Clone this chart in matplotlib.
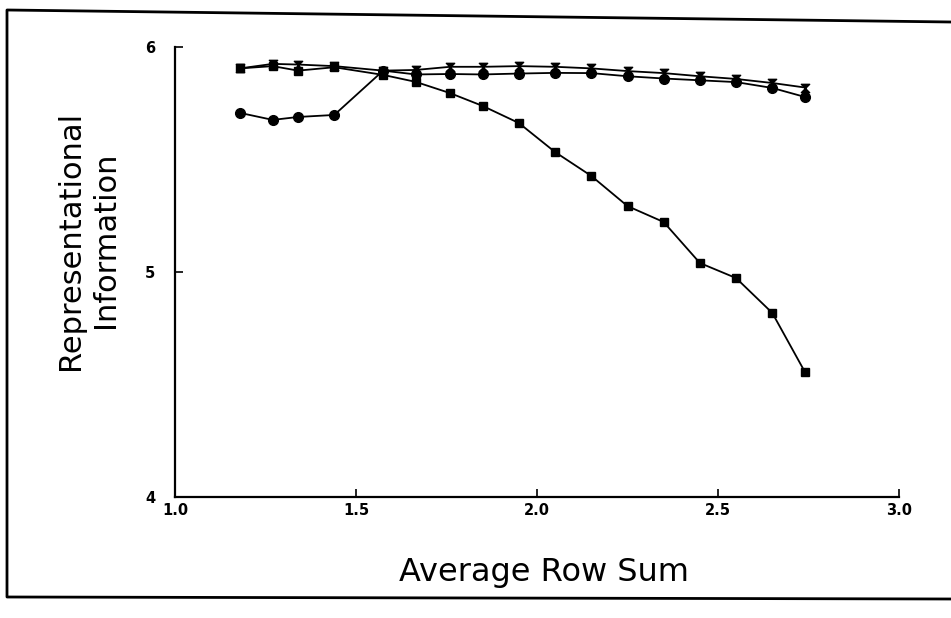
import matplotlib.pyplot as plt
from matplotlib.path import Path
from matplotlib.lines import Line2D

# Valores
fila_media = [1.18, 1.27, 1.34, 1.44, 1.575, 1.665, 1.76, 1.85, 1.95, 2.05,
              2.15, 2.25, 2.35, 2.45, 2.55, 2.65, 2.74]

info_circulos = [5.707, 5.676, 5.689, 5.698, 5.895, 5.878, 5.88, 5.878, 5.882,
                 5.885, 5.884, 5.87, 5.86, 5.852, 5.844, 5.818, 5.778]
info_cuadrados = [5.905, 5.915, 5.895, 5.91, 5.876, 5.845, 5.795, 5.738, 5.662,
                  5.533, 5.427, 5.293, 5.222, 5.04, 4.973, 4.818, 4.556]
info_relojes = [5.905, 5.925, 5.922, 5.915, 5.895, 5.898, 5.912, 5.912, 5.915,
                5.912, 5.905, 5.893, 5.884, 5.87, 5.858, 5.84, 5.82]

xticks = [1.0, 1.5, 2.0, 2.5, 3.0]
yticks = [4, 5, 6]

# marcador tipo reloj de arena
reloj = Path([(-1, 1), (1, 1), (-1, -1), (1, -1), (-1, 1)],
             [Path.MOVETO, Path.LINETO, Path.LINETO, Path.LINETO, Path.CLOSEPOLY])

fig = plt.figure(figsize=(9.51, 6.18), dpi=100)
ax = fig.add_axes([175 / 951, 1 - 497 / 618, (899 - 175) / 951, (497 - 47) / 618])

ax.plot(fila_media, info_relojes, color='black', lw=1.3, marker=reloj, ms=6)
ax.plot(fila_media, info_circulos, color='black', lw=1.3, marker='o', ms=7)
ax.plot(fila_media, info_cuadrados, color='black', lw=1.3, marker='s', ms=6)

ax.set_xlim(1.0, 3.0)
ax.set_ylim(4, 6)
ax.set_xticks(xticks)
ax.set_xticklabels(['%.1f' % v for v in xticks])
ax.set_yticks(yticks)
ax.spines['top'].set_visible(False)
ax.spines['right'].set_visible(False)
ax.spines['left'].set_linewidth(1.6)
ax.spines['bottom'].set_linewidth(1.6)
ax.tick_params(direction='in', length=6, width=1.2, labelsize=10.5)
ax.tick_params(axis='x', pad=4)
ax.tick_params(axis='y', pad=14)
for t in ax.get_xticklabels() + ax.get_yticklabels():
    t.set_fontweight('bold')

fig.text(544 / 951, 1 - 573 / 618, 'Average Row Sum', ha='center', va='center', fontsize=23)
fig.text(88 / 951, 1 - 240 / 618, 'Representational\nInformation', ha='center', va='center',
         rotation=90, fontsize=22, linespacing=1.3)

# marco alrededor de la figura (sin lado derecho)
marco = Line2D([951 / 951, 7 / 951, 7 / 951, 951 / 951],
               [1 - 22 / 618, 1 - 10 / 618, 1 - 597 / 618, 1 - 599 / 618],
               transform=fig.transFigure, color='black', lw=2)
fig.add_artist(marco)

fig.savefig('out.png', dpi=100)
